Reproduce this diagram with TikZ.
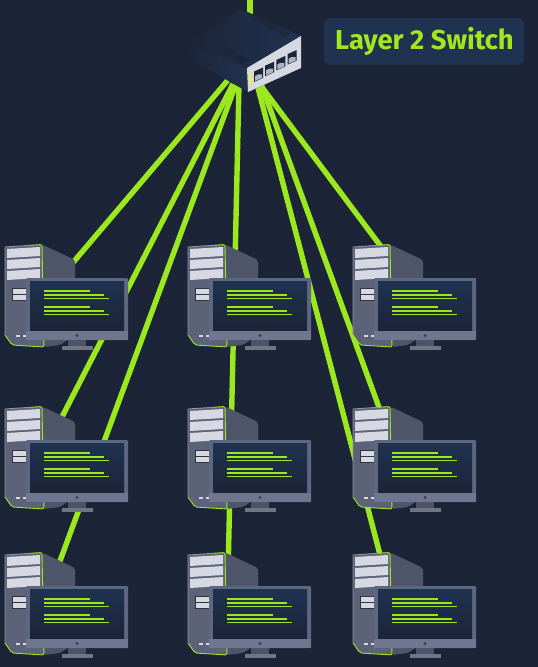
\documentclass[tikz,border=0pt]{standalone}
\usepackage{fontspec}
\setmainfont{Fira Sans}
\definecolor{bg}{HTML}{1C2438}
\definecolor{navy}{HTML}{1F3350}
\definecolor{lime}{HTML}{9BE81E}
\definecolor{limetxt}{HTML}{A2E61F}
\definecolor{towerfront}{HTML}{5C6277}
\definecolor{towerside}{HTML}{50566A}
\definecolor{bay}{HTML}{D6D9E2}
\definecolor{frame}{HTML}{5E6780}
\definecolor{framelow}{HTML}{6E7690}
\definecolor{standc}{HTML}{4C5368}
\tikzset{
  link/.style={draw=lime,line width=5.4bp},
  bayfill/.style={fill=bay},
  textline/.style={draw=lime,line width=1.3bp},
  workstation/.pic={
    \fill[towerside,rounded corners=2bp] (42,0.5) -- (75,16) -- (76,90) -- (60,101) -- (44,103) -- cycle;
    \fill[towerfront,rounded corners=2bp] (5,3) -- (42,0.5) -- (44,103) -- (12,101) -- (5,91) -- cycle;
    \draw[draw=lime,line width=0.9bp,rounded corners=2bp] (30,1.3) -- (42,0.5) -- (44,103) -- (12,101) -- (5,91);
    \draw[draw=towerfront!70!white,line width=0.9bp] (5,91) -- (5,3) -- (30,1.3);
    \fill[bayfill] (7,5) -- (40,3) -- (40,12) -- (7,14) -- cycle;
    \fill[bayfill] (7,16) -- (40,14) -- (40,23) -- (7,25) -- cycle;
    \fill[bayfill] (7,27) -- (40,25) -- (40,34) -- (7,36) -- cycle;
    \fill[towerside!60!black] (12,44) rectangle (27,57);
    \fill[bayfill] (13,45) rectangle (26,49.5);
    \fill[bayfill] (13,51) rectangle (26,55.5);
    \fill[bayfill] (15.5,91) rectangle (19.5,93);
    \fill[bayfill] (23,91) rectangle (27,93);
    \fill[standc] (68,95) rectangle (86,103);
    \fill[standc!80!white] (62,102) rectangle (93,105.5);
    \fill[frame,rounded corners=1bp] (26,34) rectangle (128,96);
    \fill[framelow] (26,87) rectangle (128,96);
    \shade[top color=navy,bottom color=bg] (30,37) rectangle (124,86);
    \fill[black!75] (77,91.5) circle (1.6bp);
    \draw[textline] (44,47) -- (90,47);
    \draw[textline] (44,51) -- (104,51);
    \draw[textline] (44,54.5) -- (109,54.5);
    \draw[textline] (44,63) -- (90,63);
    \draw[textline] (44,67) -- (104,67);
    \draw[textline] (44,70.5) -- (109,70.5);
  }
}
\begin{document}
\begin{tikzpicture}[x=1bp,y=-1bp]
\useasboundingbox (0,0) rectangle (538,667);
\fill[bg] (0,0) rectangle (538,667);
% anchors
\coordinate (up) at (250,-3);
\coordinate (swtop) at (250,14);
\coordinate (s1) at (228,80);
\coordinate (s2) at (233,84);
\coordinate (s3) at (236,84);
\coordinate (s4) at (239,84);
\coordinate (s5) at (258,82);
\coordinate (s6) at (261,84);
\coordinate (s7) at (257,84);
\coordinate (a1) at (48,292);
\coordinate (a2) at (45,450);
\coordinate (a3) at (50,588);
\coordinate (b3) at (228,575);
\coordinate (c1) at (397,268);
\coordinate (c2) at (392,443);
\coordinate (c3) at (384,570);
% links
\draw[link] (up) -- (swtop);
\draw[link] (s1) -- (a1);
\draw[link] (s2) -- (a2);
\draw[link] (s3) -- (a3);
\draw[link] (s4) -- (b3);
\draw[link] (s5) -- (c1);
\draw[link] (s6) -- (c2);
\draw[link] (s7) -- (c3);
% workstations
\foreach \px/\nm in {0/a,183/b,348/c}{
  \foreach \py/\rw in {244/1,406/2,552/3}{
    \pic (\nm\rw) at (\px,\py) {workstation};
  }
}
% switch
\fill[bg] (187,42) -- (243,10) -- (301,36) -- (301,68) -- (248,92) -- (187,57) -- cycle;
\shade[left color=bg,right color=navy] (187,42) -- (247,68) -- (248,92) -- (187,57) -- cycle;
\shade[left color=bg,right color=navy] (187,42) -- (240,10) -- (301,36) -- (247,68) -- cycle;
\foreach \i in {0,1,2}{
  \fill[bg!80!navy] ({252+\i*11.5},{19+\i*6.3}) -- ({258+\i*11.5},{16+\i*6.3}) -- ({267+\i*11.5},{21+\i*6.3}) -- ({261+\i*11.5},{24+\i*6.3}) -- cycle;
}
\fill[bg!90!navy] (222,51) -- (229,47) -- (236,53) -- (229,57) -- cycle;
\fill[bg] (233,58) -- (240,54) -- (249,60) -- (242,65) -- cycle;
\fill[bay] (247,68) -- (301,36) -- (301,68) -- (248,92) -- cycle;
\foreach \i in {0,1,2,3}{
  \fill[bg] ({254+\i*11.2},{71.5-\i*5.8}) -- ({263+\i*11.2},{67.5-\i*5.8}) -- ({263+\i*11.2},{78-\i*5.8}) -- ({254+\i*11.2},{82-\i*5.8}) -- cycle;
  \fill[bay!70!towerfront] ({255+\i*11.2},{76-\i*5.8}) -- ({258+\i*11.2},{74.5-\i*5.8}) -- ({262+\i*11.2},{74.5-\i*5.8}) -- ({262+\i*11.2},{78-\i*5.8}) -- ({255+\i*11.2},{81-\i*5.8}) -- cycle;
}
\fill[yellow!60!bay] (249,73) rectangle (251.5,85);
% label
\fill[navy,rounded corners=7bp] (324,18) rectangle (524,65);
\node[inner sep=0pt,text=limetxt,font=\fontsize{27.5}{30}\selectfont\bfseries] (label) at (424.5,41) {Layer 2 Switch};
\end{tikzpicture}
\end{document}
